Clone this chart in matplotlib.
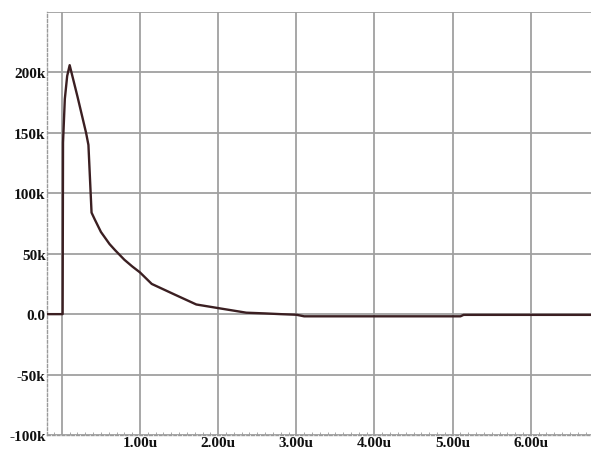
import matplotlib.pyplot as plt
from matplotlib.ticker import MultipleLocator

# time in microseconds, value of the transient
t_us = [-0.19, 0.0, 0.01, 0.015, 0.038, 0.068, 0.10, 0.20, 0.31, 0.34, 0.38,
        0.42, 0.50, 0.61, 0.68, 0.80, 0.90, 1.00, 1.15, 1.45, 1.72, 2.00,
        2.36, 2.60, 2.80, 3.00, 3.10, 4.00, 5.10, 5.14, 6.00, 6.77]
val = [0, 0, 0, 142e3, 178e3, 197e3, 206e3, 180e3, 150e3, 140e3, 84e3,
       78.5e3, 68e3, 58e3, 53e3, 45e3, 39.5e3, 34.5e3, 25e3, 16e3, 8e3, 5e3,
       1.2e3, 0.6e3, 0, -0.5e3, -1.8e3, -1.8e3, -1.8e3, -0.6e3, -0.6e3, -0.6e3]

x_ticks = [0, 1, 2, 3, 4, 5, 6]
x_labels = ['', '1.00u', '2.00u', '3.00u', '4.00u', '5.00u', '6.00u']
y_ticks = [-100e3, -50e3, 0, 50e3, 100e3, 150e3, 200e3, 250e3]
y_labels = ['-100k', '-50k', '0.0', '50k', '100k', '150k', '200k', '']

fig = plt.figure(figsize=(5.91, 4.52), dpi=100)
ax = fig.add_axes([47 / 591, 16 / 452, 544 / 591, 423 / 452])

ax.plot(t_us, val, color='#3b1f22', lw=1.7, zorder=3)

ax.set_xlim(-0.19, 6.77)
ax.set_ylim(-100e3, 250e3)
ax.set_xticks(x_ticks, labels=x_labels)
ax.set_yticks(y_ticks, labels=y_labels)
ax.xaxis.set_minor_locator(MultipleLocator(0.1))
ax.grid(True, color='#a0a0a0', lw=1.3)
ax.set_axisbelow(True)

for side in ['top', 'right']:
    ax.spines[side].set_visible(False)
for side in ['left', 'bottom']:
    ax.spines[side].set_color('#9a9a9a')
    ax.spines[side].set_linestyle((0, (2, 1.5)))
    ax.spines[side].set_linewidth(1.0)

font = {'family': 'Liberation Serif', 'weight': 'bold', 'size': 11}
for lab in ax.get_xticklabels() + ax.get_yticklabels():
    lab.set_fontproperties(font)
ax.tick_params(axis='both', which='major', length=0, pad=1, colors='#111111')
ax.tick_params(axis='x', which='minor', direction='in', length=2, color='#9a9a9a')

fig.savefig('out.png', dpi=100)
